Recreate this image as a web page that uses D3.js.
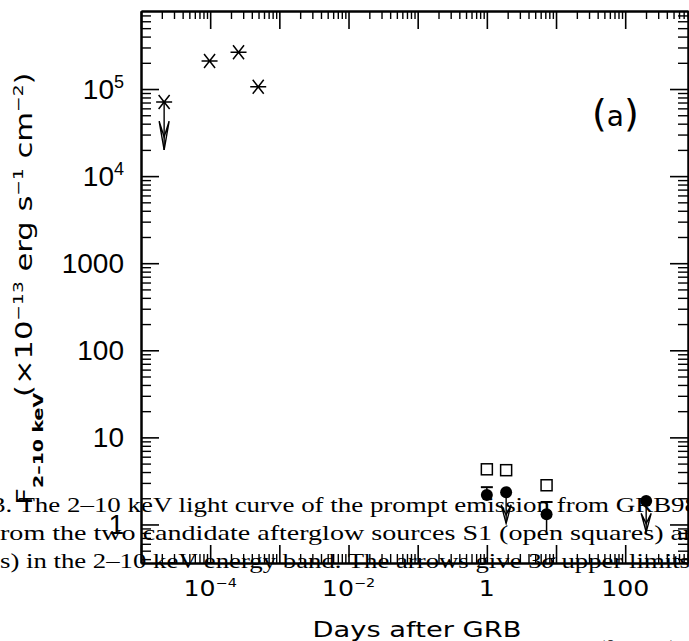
<!DOCTYPE html>
<html><head><meta charset="utf-8">
<script src="https://cdn.jsdelivr.net/npm/d3@7"></script>
<style>html,body{margin:0;padding:0;background:#fff;} svg{display:block;}</style>
</head><body>
<svg id="chart" width="689" height="641"></svg>
<script>
// Prompt emission (asterisks); the first point is an upper limit
const promptDays = [2.16e-5, 9.8e-5, 2.57e-4, 4.95e-4];
const promptFlux = [7.1e4, 2.1e5, 2.64e5, 1.06e5];
const promptUpperLimit = [true, false, false, false];

// Candidate afterglow source S1 (open squares)
const s1Days = [1.0, 1.9, 7.3];
const s1Flux = [4.3, 4.2, 2.82];

// Candidate afterglow source S2 (filled circles)
const s2Days = [1.0, 1.9, 7.3, 201];
const s2Flux = [2.18, 2.34, 1.31, 1.86];
const s2ErrHigh = [2.68, null, 1.81, null];
const s2ErrLow = [1.95, null, 0.83, null];
const s2UpperLimit = [false, true, false, true];

// Axis ticks and labels ([base, exponent])
const xTickValues = [1e-4, 1e-2, 1, 100];
const xTickLabels = [["10", "−4"], ["10", "−2"], ["1", ""], ["100", ""]];
const yTickValues = [1, 10, 100, 1000, 1e4, 1e5];
const yTickLabels = [["1", ""], ["10", ""], ["100", ""], ["1000", ""], ["10", "4"], ["10", "5"]];

const xDomain = [1e-5, 809];
const yDomain = [0.361, 7.87e5];

const plot = {left: 141, right: 688, top: 11, bottom: 563};

const svg = d3.select("#chart");
const x = d3.scaleLog().domain(xDomain).range([plot.left, plot.right]);
const y = d3.scaleLog().domain(yDomain).range([plot.bottom, plot.top]);

const isPow10 = v => Math.abs(Math.log10(v) - Math.round(Math.log10(v))) < 1e-9;
const xMajor = x.ticks(30).filter(isPow10);
const xMinor = x.ticks(30).filter(v => !isPow10(v));
const yMajor = y.ticks(30).filter(isPow10);
const yMinor = y.ticks(30).filter(v => !isPow10(v));

function styleAxis(g, w) {
  g.select(".domain").attr("stroke", "#000").attr("stroke-width", 2);
  g.selectAll(".tick line").attr("stroke", "#000").attr("stroke-width", w);
  g.selectAll(".tick text").remove();
}

// Frame with inward ticks on all four sides
const axes = [
  {gen: d3.axisBottom, scale: x, major: xMajor, minor: xMinor, t: `translate(0,${plot.bottom})`, maj: 18, min: 9},
  {gen: d3.axisTop, scale: x, major: xMajor, minor: xMinor, t: `translate(0,${plot.top})`, maj: 18, min: 8},
  {gen: d3.axisLeft, scale: y, major: yMajor, minor: yMinor, t: `translate(${plot.left},0)`, maj: 18, min: 10},
  {gen: d3.axisRight, scale: y, major: yMajor, minor: yMinor, t: `translate(${plot.right},0)`, maj: 18, min: 10}
];
axes.forEach(a => {
  svg.append("g").attr("transform", a.t)
    .call(a.gen(a.scale).tickValues(a.minor).tickSize(-a.min).tickSizeOuter(0).tickFormat(""))
    .call(g => styleAxis(g, 1.4));
  svg.append("g").attr("transform", a.t)
    .call(a.gen(a.scale).tickValues(a.major).tickSize(-a.maj).tickSizeOuter(0).tickFormat(""))
    .call(g => styleAxis(g, 1.6));
});

// Tick labels
const xl = svg.append("g");
xTickValues.forEach((v, i) => {
  const t = xl.append("text")
    .attr("transform", `translate(${x(v)},596) scale(1.2,1)`)
    .attr("text-anchor", "middle")
    .attr("font-family", "DejaVu Sans").attr("font-size", 21).attr("fill", "#000");
  t.append("tspan").text(xTickLabels[i][0]);
  if (xTickLabels[i][1]) t.append("tspan").attr("dy", -9).attr("font-size", 12).text(xTickLabels[i][1]);
});
const yl = svg.append("g");
yTickValues.forEach((v, i) => {
  const t = yl.append("text")
    .attr("x", 124).attr("y", y(v) + 10)
    .attr("text-anchor", "end")
    .attr("font-family", "Liberation Sans").attr("font-size", 28).attr("fill", "#000");
  t.append("tspan").text(yTickLabels[i][0]);
  if (yTickLabels[i][1]) t.append("tspan").attr("dy", -11).attr("font-size", 18).text(yTickLabels[i][1]);
});

// Axis titles
svg.append("text")
  .attr("transform", "translate(417,637) scale(1.3,1)")
  .attr("text-anchor", "middle")
  .attr("font-family", "DejaVu Sans").attr("font-size", 21).attr("fill", "#000")
  .text("Days after GRB");

const yt1 = svg.append("text")
  .attr("transform", "translate(32,505) rotate(-90) scale(1.35,1)")
  .attr("font-family", "DejaVu Sans").attr("font-size", 22).attr("fill", "#000");
yt1.append("tspan").text("F");
yt1.append("tspan").attr("dy", 11).attr("font-size", 14).attr("font-weight", "bold").text("2–10 keV");

const yt2 = svg.append("text")
  .attr("transform", "translate(32,397) rotate(-90) scale(1.33,1)")
  .attr("font-family", "DejaVu Sans").attr("font-size", 23).attr("fill", "#000");
yt2.append("tspan").text("(×10");
yt2.append("tspan").attr("dy", -9).attr("font-size", 14).text("−13");
yt2.append("tspan").attr("dy", 9).text(" erg s");
yt2.append("tspan").attr("dy", -9).attr("font-size", 14).text("−1");
yt2.append("tspan").attr("dy", 9).text(" cm");
yt2.append("tspan").attr("dy", -9).attr("font-size", 14).text("−2");
yt2.append("tspan").attr("dy", 9).text(")");

// Panel label
const pl = svg.append("text").attr("x", 592).attr("y", 126)
  .attr("font-family", "DejaVu Sans").attr("fill", "#000");
pl.append("tspan").attr("font-size", 38).text("(");
pl.append("tspan").attr("font-size", 28).text("a");
pl.append("tspan").attr("font-size", 38).text(")");

// Marks
const marks = svg.append("g").attr("stroke", "#000").attr("fill", "none");

function downArrow(px, py, len) {
  const head = len * 0.6, tip = py + len;
  marks.append("line").attr("x1", px).attr("x2", px).attr("y1", py).attr("y2", tip).attr("stroke-width", 1.4);
  marks.append("path")
    .attr("d", `M${px - 5},${tip - head} L${px},${tip} L${px + 5},${tip - head} L${px},${tip - head * 0.45} Z`)
    .attr("stroke-width", 1.4).attr("stroke-linejoin", "miter");
}

promptDays.forEach((d, i) => {
  const px = x(d), py = y(promptFlux[i]);
  marks.append("path")
    .attr("d", `M${px - 8},${py} L${px + 8},${py} M${px - 5.5},${py - 7} L${px + 5.5},${py + 7} M${px - 5.5},${py + 7} L${px + 5.5},${py - 7}`)
    .attr("stroke-width", 1.5);
  if (promptUpperLimit[i]) downArrow(px, py, 48);
});

s1Days.forEach((d, i) => {
  marks.append("rect")
    .attr("x", x(d) - 5.5).attr("y", y(s1Flux[i]) - 5.5)
    .attr("width", 11).attr("height", 11).attr("stroke-width", 1.5).attr("fill", "#fff");
});

s2Days.forEach((d, i) => {
  const px = x(d), py = y(s2Flux[i]);
  if (s2ErrHigh[i] != null) {
    marks.append("line").attr("x1", px).attr("x2", px)
      .attr("y1", y(s2ErrHigh[i])).attr("y2", y(s2ErrLow[i])).attr("stroke-width", 1.5);
    marks.append("line").attr("x1", px - 6).attr("x2", px + 6)
      .attr("y1", y(s2ErrHigh[i])).attr("y2", y(s2ErrHigh[i])).attr("stroke-width", 2);
  }
  if (s2UpperLimit[i]) downArrow(px, py, 31);
  marks.append("circle").attr("cx", px).attr("cy", py).attr("r", 6).attr("fill", "#000").attr("stroke", "none");
});

// Caption text running across the figure
const cap = svg.append("g").attr("font-family", "Liberation Serif").attr("font-size", 22).attr("fill", "#000");
cap.append("text").attr("x", -8).attr("y", 512)
  .attr("textLength", 706).attr("lengthAdjust", "spacingAndGlyphs")
  .text("3. The 2–10 keV light curve of the prompt emission from GRB98");
cap.append("text").attr("x", 0).attr("y", 540)
  .attr("textLength", 697).attr("lengthAdjust", "spacingAndGlyphs")
  .text("rom the two candidate afterglow sources S1 (open squares) an");
const c3 = cap.append("text").attr("x", 0).attr("y", 568)
  .attr("textLength", 690).attr("lengthAdjust", "spacingAndGlyphs");
c3.append("tspan").text("s) in the 2–10 keV energy band. The arrows give 3");
c3.append("tspan").attr("font-style", "italic").text("σ");
c3.append("tspan").text(" upper limits");
cap.append("text").attr("x", 598).attr("y", 655).text("(θ ≈ 37°) th");
</script>
</body></html>
